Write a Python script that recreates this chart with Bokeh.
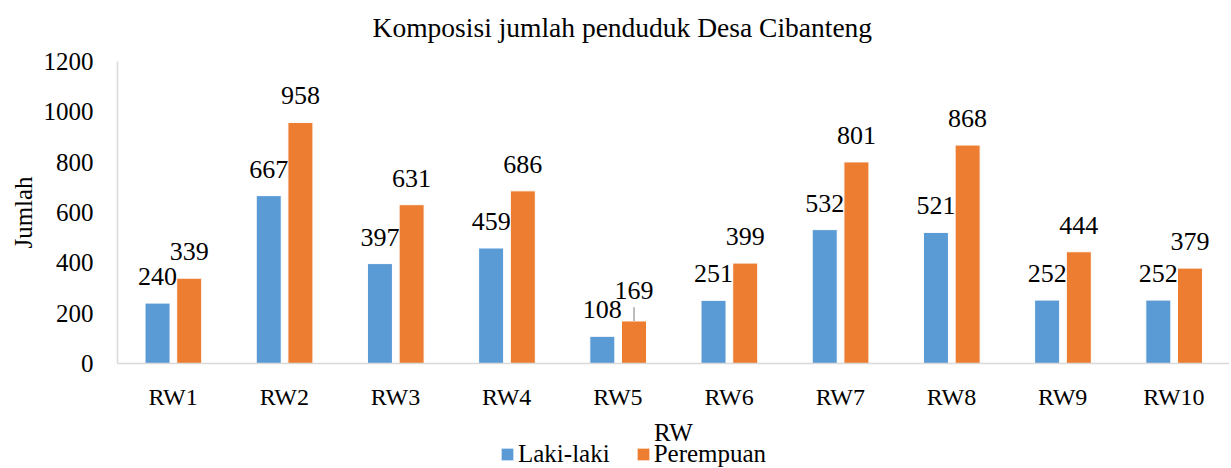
from bokeh.plotting import figure
from bokeh.layouts import column
from bokeh.models import (ColumnDataSource, FactorRange, Range1d, FixedTicker,
                          LabelSet, Label, Legend, LegendItem)
from bokeh.transform import dodge
from bokeh.embed import file_html
from bokeh.resources import INLINE

categories = ["RW1", "RW2", "RW3", "RW4", "RW5", "RW6", "RW7", "RW8", "RW9", "RW10"]
laki = [240, 667, 397, 459, 108, 251, 532, 521, 252, 252]
perempuan = [339, 958, 631, 686, 169, 399, 801, 868, 444, 379]
y_ticks = [0, 200, 400, 600, 800, 1000, 1200]
series_names = ["Laki-laki", "Perempuan"]
x_title = "RW"
y_title = "Jumlah"
chart_title = "Komposisi jumlah penduduk Desa Cibanteng"

FONT = "Liberation Serif"
BLUE = "#5B9BD5"
ORANGE = "#ED7D31"
W = 1229

lab_off_l = [18] * len(categories)
lab_off_p = [18] * len(categories)
lab_off_p[4] = 22

src = ColumnDataSource(dict(
    rw=categories, laki=laki, perempuan=perempuan,
    laki_txt=[str(v) for v in laki], per_txt=[str(v) for v in perempuan],
    off_l=lab_off_l, off_p=lab_off_p,
))

# strip above the chart: title
tt = figure(width=W, height=44, output_backend="svg", toolbar_location=None,
            x_range=Range1d(0, 1), y_range=Range1d(0, 44),
            x_axis_type=None, y_axis_type=None, min_border=0)
tt.outline_line_color = None
tt.grid.visible = False
tt.add_layout(Label(x=0.454, y=17, text=chart_title, text_align="center",
                    text_baseline="middle", text_font=FONT, text_font_size="27.5px",
                    text_color="black"))

p = figure(x_range=FactorRange(*categories), y_range=Range1d(0, 1200),
           width=W, height=368, output_backend="svg", toolbar_location=None,
           min_border_left=117, min_border_right=0, min_border_top=17,
           min_border_bottom=48)
p.outline_line_color = None
p.grid.visible = False
p.background_fill_color = "white"

r1 = p.vbar(x=dodge("rw", -0.14, range=p.x_range), top="laki", width=0.225,
            source=src, fill_color=BLUE, line_color="white", line_width=1)
r2 = p.vbar(x=dodge("rw", 0.145, range=p.x_range), top="perempuan", width=0.225,
            source=src, fill_color=ORANGE, line_color="white", line_width=1)

# leader line for RW5 Perempuan label
i5 = 4
p.segment(x0=dodge("rw", 0.145, range=p.x_range), y0="perempuan",
          x1=dodge("rw", 0.145, range=p.x_range), y1="top",
          source=ColumnDataSource(dict(rw=[categories[i5]], perempuan=[perempuan[i5]],
                                       top=[perempuan[i5] + 55])),
          line_color="#A6A6A6", line_width=1.5)

for col, txt, off, dx in [("laki", "laki_txt", "off_l", -0.14), ("perempuan", "per_txt", "off_p", 0.145)]:
    ls = LabelSet(x=dodge("rw", dx, range=p.x_range), y=col, text=txt, source=src,
                  y_offset=off, text_align="center", text_baseline="alphabetic",
                  text_font=FONT, text_font_size="26px", text_color="black")
    p.add_layout(ls)

p.yaxis.ticker = FixedTicker(ticks=y_ticks)
for ax in (p.xaxis, p.yaxis):
    ax.major_tick_line_color = None
    ax.minor_tick_line_color = None
    ax.major_label_text_font = FONT
    ax.major_label_text_color = "black"
    ax.axis_label_text_font = FONT
    ax.axis_label_text_font_size = "25px"
    ax.axis_label_text_font_style = "normal"
    ax.axis_label_text_color = "black"
    ax.axis_line_color = "#D9D9D9"
    ax.axis_line_width = 1.5

p.yaxis.major_label_text_font_size = "25px"
p.xaxis.major_label_text_font_size = "24px"
p.yaxis.axis_label = y_title
p.yaxis.major_label_standoff = 18
p.yaxis.axis_label_standoff = 4
p.xaxis.major_label_standoff = 14

# strip under the chart: x-axis title and legend
lg = figure(width=W, height=56, output_backend="svg", toolbar_location=None,
            x_range=Range1d(0, 1), y_range=Range1d(0, 56),
            x_axis_type=None, y_axis_type=None, min_border=0)
lg.outline_line_color = None
lg.grid.visible = False
lg.add_layout(Label(x=0.5, y=36, text=x_title, text_align="center", text_baseline="middle",
                    text_font=FONT, text_font_size="25px", text_color="black"))
# off-range swatch renderers that only feed the legend
lr1 = lg.vbar(x=[-1], top=[-1], bottom=[-2], width=0.1, fill_color=BLUE,
              line_color="white", line_width=1)
lr2 = lg.vbar(x=[-1], top=[-1], bottom=[-2], width=0.1, fill_color=ORANGE,
              line_color="white", line_width=1)
legend = Legend(items=[LegendItem(label=series_names[0], renderers=[lr1]),
                       LegendItem(label=series_names[1], renderers=[lr2])],
                orientation="horizontal", location=(382, 0),
                label_text_font=FONT, label_text_font_size="25px", label_text_color="black",
                glyph_width=16, glyph_height=16, label_standoff=3, spacing=25,
                padding=0, margin=0, border_line_color=None,
                background_fill_alpha=0)
lg.add_layout(legend, "center")

layout = column(tt, p, lg, spacing=0)
open("out.html", "w").write(file_html(layout, INLINE))
